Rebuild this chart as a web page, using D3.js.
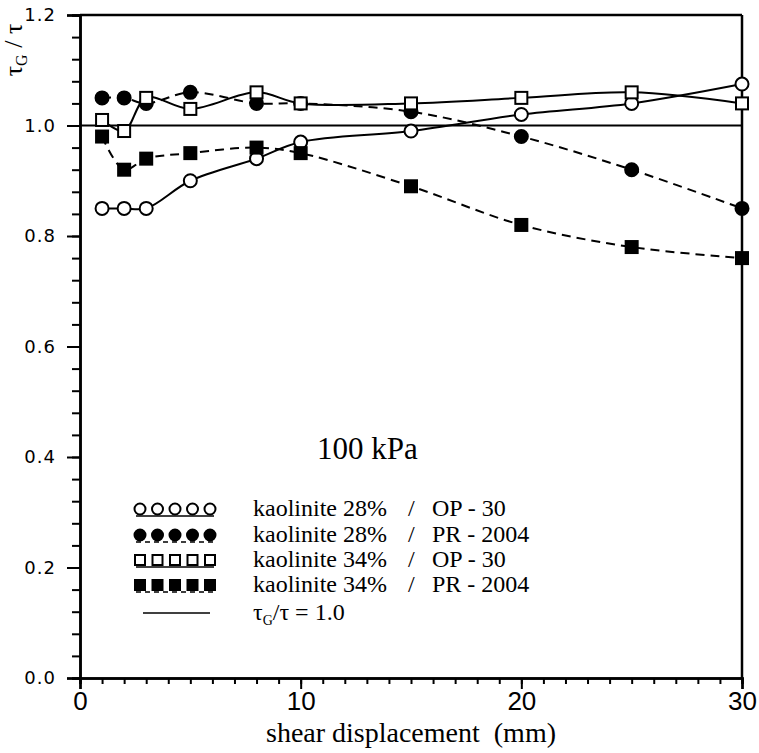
<!DOCTYPE html>
<html>
<head>
<meta charset="utf-8">
<script src="https://cdn.jsdelivr.net/npm/d3@7"></script>
<style>
  html, body { margin: 0; padding: 0; background: #fff; }
  svg { display: block; }
  text { white-space: pre; }
</style>
</head>
<body>
<svg id="chart" width="759" height="753"></svg>
<script>
// ---- data ----
const displacement = [1, 2, 3, 5, 8, 10, 15, 20, 25, 30];
const k28_OP30   = [0.85, 0.85, 0.85, 0.90, 0.94, 0.97, 0.99, 1.02, 1.04, 1.075];
const k28_PR2004 = [1.05, 1.05, 1.04, 1.06, 1.04, 1.04, 1.025, 0.98, 0.92, 0.85];
const k34_OP30   = [1.01, 0.99, 1.05, 1.03, 1.06, 1.04, 1.04, 1.05, 1.06, 1.04];
const k34_PR2004 = [0.98, 0.92, 0.94, 0.95, 0.96, 0.95, 0.89, 0.82, 0.78, 0.76];
const refValue = 1.0;
const yMajorTicks = [0, 0.2, 0.4, 0.6, 0.8, 1.0, 1.2];
const xMajorTicks = [0, 10, 20, 30];
const seriesNames = [
  ["kaolinite 28%", "OP - 30"],
  ["kaolinite 28%", "PR - 2004"],
  ["kaolinite 34%", "OP - 30"],
  ["kaolinite 34%", "PR - 2004"]
];

const series = [
  { values: k28_OP30,   shape: "circle", filled: false, dashed: false },
  { values: k28_PR2004, shape: "circle", filled: true,  dashed: true },
  { values: k34_OP30,   shape: "square", filled: false, dashed: false },
  { values: k34_PR2004, shape: "square", filled: true,  dashed: true }
];

const svg = d3.select("#chart");
const x = d3.scaleLinear().domain([0, 30]).range([80, 742]);
const y = d3.scaleLinear().domain([0, 1.2]).range([678, 15]);
const serif = "'Liberation Serif', 'Times New Roman', serif";

// ---- axes ----
const yMinor = d3.range(0, 1.2001, 0.04).map(v => +v.toFixed(2));
const xMinor = d3.range(0, 31, 1);

const gyMinor = svg.append("g").attr("transform", `translate(${x(0)},0)`)
  .call(d3.axisLeft(y).tickValues(yMinor).tickSize(8).tickFormat(""));
const gy = svg.append("g").attr("transform", `translate(${x(0)},0)`)
  .call(d3.axisLeft(y).tickValues(yMajorTicks).tickSize(13).tickPadding(11)
    .tickFormat(d3.format(".1f")));
const gxMinor = svg.append("g").attr("transform", `translate(0,${y(0)})`)
  .call(d3.axisBottom(x).tickValues(xMinor).tickSize(6).tickFormat(""));
const gx = svg.append("g").attr("transform", `translate(0,${y(0)})`)
  .call(d3.axisBottom(x).tickValues(xMajorTicks).tickSize(11).tickPadding(3)
    .tickFormat(d3.format("d")));

[gyMinor, gy, gxMinor, gx].forEach(g => {
  g.selectAll("path.domain").attr("stroke", "#000").attr("stroke-width", 2.5);
  g.selectAll(".tick line").attr("stroke", "#000").attr("stroke-width", 2);
});
gy.selectAll(".tick text")
  .attr("font-family", "'DejaVu Sans', sans-serif")
  .attr("font-size", 18).attr("fill", "#000").attr("letter-spacing", 1);
gx.selectAll(".tick text")
  .attr("font-family", "'Liberation Sans', Arial, sans-serif")
  .attr("font-size", 26).attr("fill", "#000");

// frame (top and right)
svg.append("line").attr("x1", x(0)).attr("x2", x(30)).attr("y1", y(1.2)).attr("y2", y(1.2))
  .attr("stroke", "#000").attr("stroke-width", 2.5);
svg.append("line").attr("x1", x(30)).attr("x2", x(30)).attr("y1", y(1.2)).attr("y2", y(0))
  .attr("stroke", "#000").attr("stroke-width", 2.5);

// reference line
svg.append("line").attr("x1", x(0)).attr("x2", x(30)).attr("y1", y(refValue)).attr("y2", y(refValue))
  .attr("stroke", "#000").attr("stroke-width", 2);

// ---- series lines ----
const line = d3.line()
  .x((d, i) => x(displacement[i]))
  .y(d => y(d))
  .curve(d3.curveCatmullRom.alpha(0.5));

series.forEach(s => {
  svg.append("path").datum(s.values)
    .attr("d", line)
    .attr("fill", "none").attr("stroke", "#000").attr("stroke-width", 2)
    .attr("stroke-dasharray", s.dashed ? "9,6" : null);
});

function drawMarker(g, shape, filled, cx, cy, size) {
  if (shape === "circle") {
    g.append("circle").attr("cx", cx).attr("cy", cy).attr("r", size / 2)
      .attr("fill", filled ? "#000" : "#fff").attr("stroke", "#000").attr("stroke-width", 2);
  } else {
    g.append("rect").attr("x", cx - size / 2).attr("y", cy - size / 2)
      .attr("width", size).attr("height", size)
      .attr("fill", filled ? "#000" : "#fff").attr("stroke", "#000").attr("stroke-width", 2);
  }
}

series.forEach(s => {
  const g = svg.append("g");
  s.values.forEach((v, i) => {
    drawMarker(g, s.shape, s.filled, x(displacement[i]), y(v), s.shape === "circle" ? 13 : 12);
  });
});

// ---- annotation ----
svg.append("text").attr("x", 317).attr("y", 459)
  .attr("font-family", serif).attr("font-size", 31).text("100 kPa");

// ---- legend ----
const legendBaselines = [516, 542, 567, 592, 620];
const symX = d3.range(5).map(i => 140 + i * 17.5);
series.forEach((s, k) => {
  const b = legendBaselines[k];
  const g = svg.append("g");
  g.append("line").attr("x1", 136).attr("x2", 214).attr("y1", b).attr("y2", b)
    .attr("stroke", "#000").attr("stroke-width", 1.5)
    .attr("stroke-dasharray", s.dashed ? "5,4" : null);
  symX.forEach(cx => drawMarker(g, s.shape, s.filled, cx, b - 7, s.shape === "circle" ? 11 : 10));
  const t = g.append("text").attr("y", b).attr("font-family", serif).attr("font-size", 24);
  t.append("tspan").attr("x", 253).text(seriesNames[k][0]);
  t.append("tspan").attr("x", 408).text("/");
  t.append("tspan").attr("x", 432).text(seriesNames[k][1]);
});
{
  const b = legendBaselines[4];
  svg.append("line").attr("x1", 143).attr("x2", 210).attr("y1", b - 7).attr("y2", b - 7)
    .attr("stroke", "#000").attr("stroke-width", 1.5);
  const t = svg.append("text").attr("x", 253).attr("y", b)
    .attr("font-family", serif).attr("font-size", 24);
  t.append("tspan").text("τ");
  t.append("tspan").attr("font-size", 14).attr("dy", 5).text("G");
  t.append("tspan").attr("dy", -5).text("/τ = 1.0");
}

// ---- axis titles ----
svg.append("text").attr("x", 411).attr("y", 742).attr("text-anchor", "middle")
  .attr("font-family", serif).attr("font-size", 28).text("shear displacement  (mm)");

const yt = svg.append("text")
  .attr("transform", "translate(22,50) rotate(-90)")
  .attr("text-anchor", "middle")
  .attr("font-family", serif).attr("font-size", 26);
yt.append("tspan").text("τ");
yt.append("tspan").attr("font-size", 16).attr("dy", 5).text("G");
yt.append("tspan").attr("dy", -5).text(" / τ");
</script>
</body>
</html>
